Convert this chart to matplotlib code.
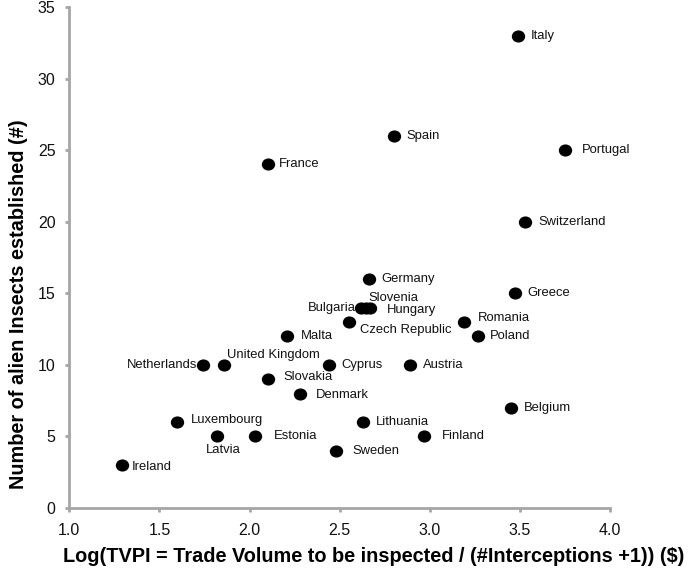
import numpy as np
import matplotlib
matplotlib.use("Agg")
import matplotlib.pyplot as plt
from matplotlib.path import Path

# === Datos ===
countries = ["Italy", "Spain", "Portugal", "France", "Switzerland", "Germany",
             "Greece", "Bulgaria", "Slovenia", "Hungary", "Czech Republic",
             "Romania", "Malta", "Poland", "Netherlands", "United Kingdom",
             "Cyprus", "Austria", "Slovakia", "Denmark", "Belgium",
             "Luxembourg", "Lithuania", "Latvia", "Estonia", "Finland",
             "Sweden", "Ireland"]
log_tvpi = [3.49, 2.80, 3.75, 2.10, 3.53, 2.66,
            3.47, 2.62, 2.645, 2.67, 2.55,
            3.19, 2.21, 3.27, 1.74, 1.86,
            2.44, 2.89, 2.10, 2.28, 3.45,
            1.60, 2.63, 1.82, 2.03, 2.97,
            2.48, 1.29]
n_insects = [33, 26, 25, 24, 20, 16,
             15, 14, 14, 14, 13,
             13, 12, 12, 10, 10,
             10, 10, 9, 8, 7,
             6, 6, 5, 5, 5,
             4, 3]

x_ticks = [1.0, 1.5, 2.0, 2.5, 3.0, 3.5, 4.0]
y_ticks = [0, 5, 10, 15, 20, 25, 30, 35]

# === Posición de las etiquetas (píxeles respecto al punto) ===
label_offsets = {
    "Netherlands": (-5, 0, "right"),
    "Bulgaria": (-5, 0, "right"),
    "United Kingdom": (3, 10, "left"),
    "Slovenia": (3, 10, "left"),
    "Hungary": (17, -2, "left"),
    "Czech Republic": (11, -8, "left"),
    "Latvia": (6, -14, "center"),
    "Estonia": (19, 0, "left"),
    "Finland": (17, 0, "left"),
    "Sweden": (16, 0, "left"),
    "Slovakia": (16, 2, "left"),
    "Denmark": (16, -1, "left"),
    "Romania": (14, 4, "left"),
    "Poland": (11, 0, "left"),
    "Portugal": (17, 0, "left"),
    "Luxembourg": (13, 2, "left"),
    "Ireland": (10, -2, "left"),
    "France": (11, 0, "left"),
}
default_offset = (13, 0, "left")

plt.rcParams['font.family'] = ['Liberation Sans', 'DejaVu Sans']

fig = plt.figure(figsize=(6.94, 5.73), dpi=100)
ax = fig.add_axes([0.0999, 0.1134, 0.7791, 0.8744])

# punto ligeramente ovalado
circle = Path.unit_circle()
oval = Path(circle.vertices * np.array([1.0, 0.9]), circle.codes)

ax.plot(log_tvpi, n_insects, linestyle="none", marker=oval, markersize=8.6,
        color="black", clip_on=False, zorder=3)

for name, xv, yv in zip(countries, log_tvpi, n_insects):
    dx, dy, ha = label_offsets.get(name, default_offset)
    ax.annotate(name, (xv, yv), xytext=(dx, dy), textcoords="offset pixels",
                ha=ha, va="center", fontsize=9.4, color="#111111")

ax.set_xlim(1.0, 4.0)
ax.set_ylim(0, 35)
ax.set_xticks(x_ticks)
ax.set_xticklabels([f"{t:.1f}" for t in x_ticks])
ax.set_yticks(y_ticks)

grey = "#A6A6A6"
for side in ("top", "right"):
    ax.spines[side].set_visible(False)
for side in ("left", "bottom"):
    ax.spines[side].set_color(grey)
    ax.spines[side].set_linewidth(2)
ax.tick_params(axis="both", direction="out", length=3, width=2, color=grey,
               labelsize=11.5, labelcolor="#111111")
ax.tick_params(axis="x", pad=8)
ax.tick_params(axis="y", pad=7)

# títulos de ejes colocados como en la figura original
fig.text(374 / 694, 1 - 557 / 573,
         "Log(TVPI = Trade Volume to be inspected / (#Interceptions +1)) ($)",
         ha="center", va="center", fontsize=14.3, fontweight="bold")
fig.text(19 / 694, 1 - 304 / 573, "Number of alien Insects established (#)",
         ha="center", va="center", rotation=90, fontsize=14.3, fontweight="bold")

fig.savefig("out.png", dpi=100)
